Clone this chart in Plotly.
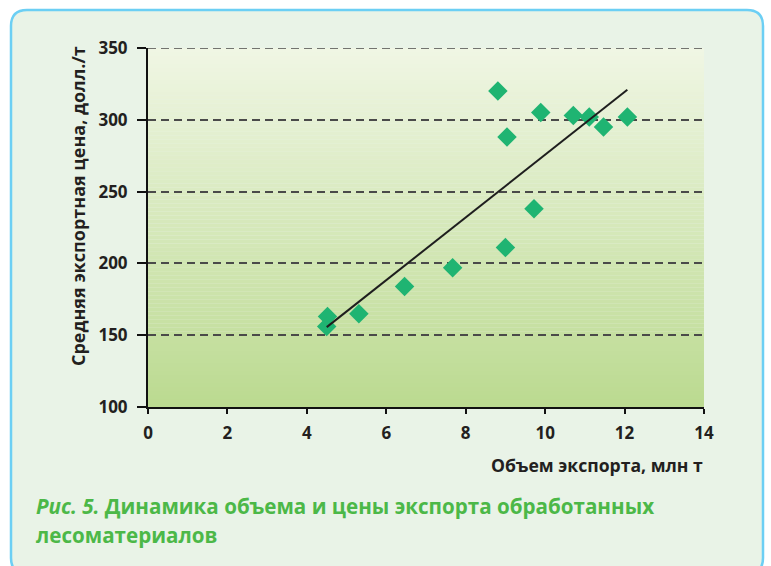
import numpy as np
import plotly.graph_objects as go

# ---- data ----
export_volume = [4.52, 4.50, 5.31, 6.46, 7.67, 8.81, 9.00, 9.04, 9.72, 9.89, 10.71, 11.11, 11.47, 12.07]
export_price = [163, 156, 165, 184, 197, 320, 211, 288, 238, 305, 303, 302, 295, 302]
x_ticks = [0, 2, 4, 6, 8, 10, 12, 14]
y_ticks = [100, 150, 200, 250, 300, 350]

# ---- layout geometry (pixels) ----
W, H = 771, 566
L, R, T, B = 148, 704, 48, 407
PW, PH = R - L, B - T


def px(xp):
    return (xp - L) / PW


def py(yp):
    return (B - yp) / PH


def rounded_rect(x0, y0, x1, y1, r):
    X0, X1 = px(x0), px(x1)
    Y0, Y1 = py(y0), py(y1)  # Y0 top, Y1 bottom
    rx, ry = r / PW, r / PH
    return (f"M {X0+rx} {Y0} L {X1-rx} {Y0} Q {X1} {Y0} {X1} {Y0-ry} "
            f"L {X1} {Y1+ry} Q {X1} {Y1} {X1-rx} {Y1} "
            f"L {X0+rx} {Y1} Q {X0} {Y1} {X0} {Y1+ry} "
            f"L {X0} {Y0-ry} Q {X0} {Y0} {X0+rx} {Y0} Z")


# trend line via least squares
coef = np.polyfit(export_volume, export_price, 1)
tx = np.array([min(export_volume), max(export_volume)])
ty = np.polyval(coef, tx)

fig = go.Figure()
fig.add_trace(go.Scatter(
    x=export_volume, y=export_price, mode="markers",
    marker=dict(symbol="diamond", size=15, color="#1fb472", line=dict(width=0)),
    hoverinfo="x+y", showlegend=False))
fig.add_trace(go.Scatter(
    x=tx, y=ty, mode="lines", line=dict(color="#1e1e1e", width=2),
    hoverinfo="skip", showlegend=False))

grid_color = "#4a4a4a"
grid_dash = "8px,5px"

shapes = []
# card background with rounded border
shapes.append(dict(type="path", xref="paper", yref="paper", layer="below",
                   path=rounded_rect(11, 10, 763, 574, 16),
                   fillcolor="#e9f3e7", line=dict(color="#6ccff4", width=2.5)))
# gradient plot background
top = np.array([0xf0, 0xf6, 0xe4])
bot = np.array([0xbb, 0xda, 0x90])
n = 90
for i in range(n):
    t = (i + 0.5) / n
    c = bot + (top - bot) * t
    col = "rgb(%d,%d,%d)" % tuple(c.round().astype(int))
    shapes.append(dict(type="rect", xref="x domain", yref="y domain", layer="below",
                       x0=0, x1=1, y0=i / n, y1=min(1, (i + 1.02) / n),
                       fillcolor=col, line=dict(width=0)))
# gridline at the top edge of the range (not drawn by plotly at the boundary)
shapes.append(dict(type="line", xref="x domain", yref="y", layer="above",
                   x0=0, x1=1, y0=y_ticks[-1], y1=y_ticks[-1],
                   line=dict(color=grid_color, width=1.5, dash=grid_dash)))

font_main = "Open Sans"
txt = "#231f20"
green = "#4cb848"

annotations = [
    dict(text="Средняя экспортная цена, долл./т", xref="paper", yref="paper",
         x=px(78), y=py(206), textangle=-90, showarrow=False,
         font=dict(family=font_main, size=18, color=txt, weight="bold"),
         xanchor="center", yanchor="middle"),
    dict(text="Объем экспорта, млн т", xref="paper", yref="paper",
         x=px(705), y=py(465), showarrow=False,
         font=dict(family=font_main, size=17.6, color=txt, weight="bold"),
         xanchor="right", yanchor="middle"),
    dict(text="<i>Рис. 5.</i> Динамика объема и цены экспорта обработанных",
         xref="paper", yref="paper", x=px(34), y=py(506), showarrow=False,
         font=dict(family=font_main, size=20.6, color=green, weight="bold"),
         xanchor="left", yanchor="middle"),
    dict(text="лесоматериалов",
         xref="paper", yref="paper", x=px(34), y=py(535), showarrow=False,
         font=dict(family=font_main, size=20.6, color=green, weight="bold"),
         xanchor="left", yanchor="middle"),
]

fig.update_layout(
    width=W, height=H,
    margin=dict(l=L, r=W - R, t=T, b=H - B, pad=0),
    paper_bgcolor="white", plot_bgcolor="rgba(0,0,0,0)",
    shapes=shapes, annotations=annotations,
    font=dict(family=font_main, color=txt),
    xaxis=dict(range=[0, 14], tickvals=x_ticks, showgrid=False, zeroline=False,
               showline=True, linecolor="#111", linewidth=2,
               ticks="outside", ticklen=5, tickwidth=1.5, tickcolor="#111",
               tickfont=dict(family=font_main, size=17, color=txt, weight="bold"),
               ticklabelstandoff=5, fixedrange=True),
    yaxis=dict(range=[100, 350], tickvals=y_ticks, showgrid=True, zeroline=False,
               gridcolor=grid_color, gridwidth=1.5, griddash=grid_dash,
               showline=True, linecolor="#111", linewidth=2,
               ticks="outside", ticklen=9, tickwidth=1.5, tickcolor="#111",
               tickfont=dict(family=font_main, size=17, color=txt, weight="bold"),
               ticklabelstandoff=6, fixedrange=True),
)

fig.write_html("out.html", config={"displayModeBar": False},
               post_script="document.body.style.margin='0';document.body.style.overflow='hidden';")
